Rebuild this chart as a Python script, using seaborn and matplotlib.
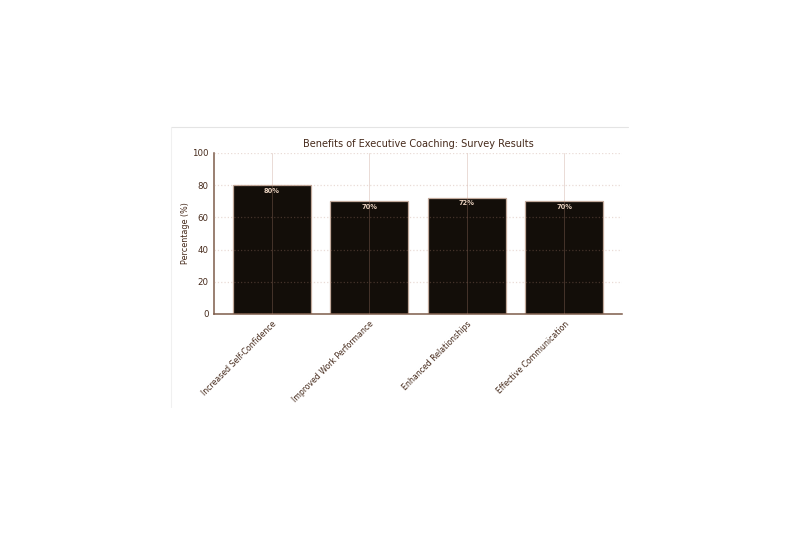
import matplotlib
matplotlib.use('Agg')
import matplotlib.pyplot as plt
import seaborn as sns
import pandas as pd
from matplotlib.lines import Line2D

# Survey data
benefits = ['Increased Self-Confidence', 'Improved Work Performance',
            'Enhanced Relationships', 'Effective Communication']
percentages = [80, 70, 72, 70]

text_col = '#45291a'
spine_col = '#7d5c4a'
bar_col = '#130e09'
edge_col = '#c2aa9c'
grid_col = '#b88a78'

sns.set_style('white')
plt.rcParams['font.family'] = ['DejaVu Sans']

df = pd.DataFrame({'Benefit': benefits, 'Percentage': percentages})

fig = plt.figure(figsize=(8, 5.33), dpi=100)
ax = fig.add_axes([0.2675, 0.411, 0.51, 0.302])

sns.barplot(data=df, x='Benefit', y='Percentage', color=bar_col,
            edgecolor=edge_col, linewidth=0.9, saturation=1, ax=ax)

ax.set_ylim(0, 100)
ax.set_xlim(-0.59, 3.59)
ax.set_axisbelow(False)
ax.yaxis.grid(True, color=grid_col, linestyle=':', linewidth=0.9, alpha=0.3)
ax.xaxis.grid(True, color=grid_col, linestyle='-', linewidth=0.7, alpha=0.3)

for i, v in enumerate(percentages):
    ax.text(i, v - 1.5, f'{v}%', ha='center', va='top', fontsize=4.8,
            fontweight='bold', color='#e6cfbd')

ax.set_title('Benefits of Executive Coaching: Survey Results', fontsize=7,
             color=text_col, pad=4)
ax.set_ylabel('Percentage (%)', fontsize=5.8, color=text_col, labelpad=1.5)
ax.set_xlabel('')
ax.tick_params(axis='both', colors=spine_col, labelcolor=text_col,
               labelsize=6.2, length=2, width=0.6, pad=2)
plt.setp(ax.get_xticklabels(), rotation=45, ha='right',
         rotation_mode='anchor', fontsize=5.6)

for side in ['top', 'right']:
    ax.spines[side].set_visible(False)
for side in ['left', 'bottom']:
    ax.spines[side].set_color(spine_col)
    ax.spines[side].set_linewidth(1.1)

# faint frame of the embedded picture (top and left edges)
fig.add_artist(Line2D([171 / 800, 628 / 800], [1 - 127 / 533, 1 - 127 / 533],
                      color='#e4e4e4', linewidth=0.8))
fig.add_artist(Line2D([171 / 800, 171 / 800], [1 - 127 / 533, 1 - 407 / 533],
                      color='#f0f0f0', linewidth=0.8))

fig.savefig('out.png', dpi=100)
